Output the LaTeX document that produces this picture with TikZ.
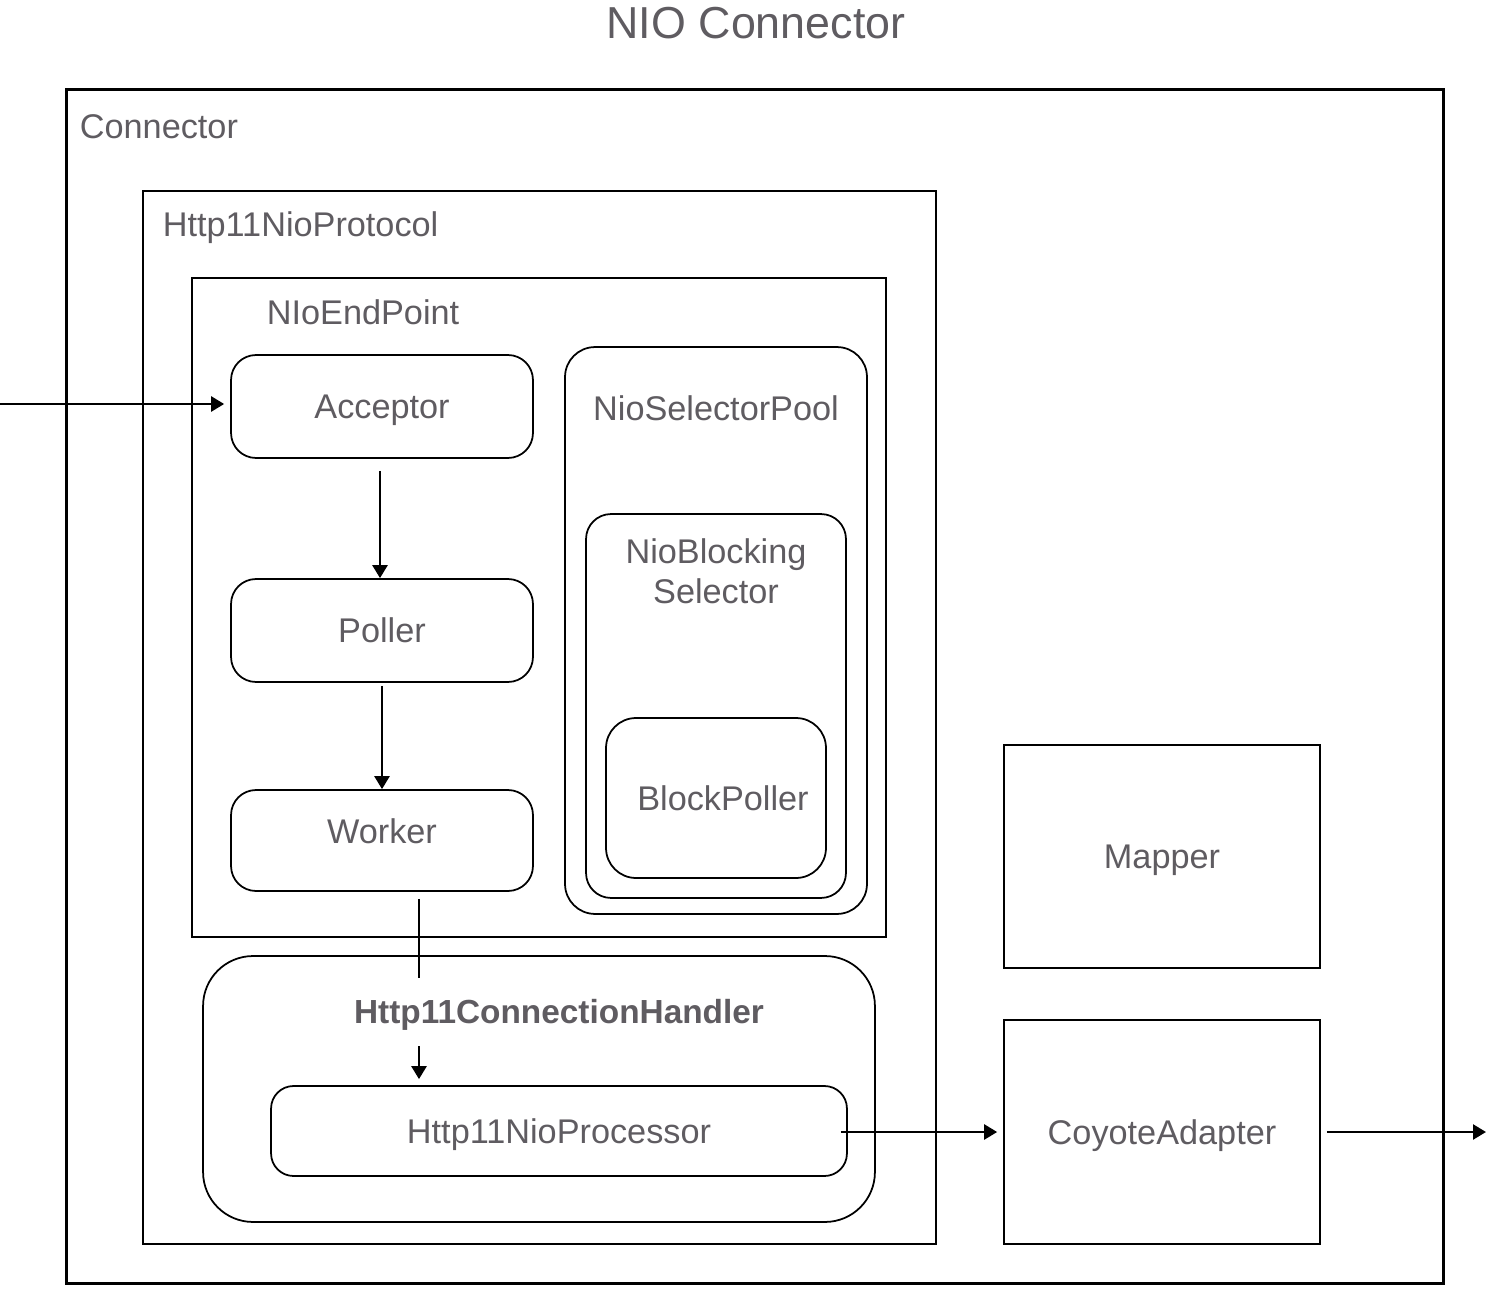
\documentclass[tikz,border=0pt]{standalone}
\usepackage{fontspec}
\setmainfont{Liberation Sans}
\usetikzlibrary{arrows.meta}
\definecolor{labelgray}{RGB}{95,92,97}

\begin{document}
\begin{tikzpicture}[x=0.02cm, y=-0.02cm, >={Triangle[length=0.26cm, width=0.3cm]}, line width=1pt]
  \tikzset{box/.style = { draw, rectangle, inner sep=0pt, text=labelgray, text height=14pt, text depth=0pt, font=\fontsize{19.5}{23}\selectfont}}
  \tikzset{rbox/.style = { box, rounded corners=0.5cm}}
  \tikzset{label/.style = { inner sep=0pt, text=labelgray, text height=14pt, text depth=0pt, font=\fontsize{19.5}{23}\selectfont}}
  \tikzset{flow/.style = { ->, line width=1.4pt}}
%  \draw [gray, very thin] (0,0) grid[step=100] (1502,1308);
  \useasboundingbox (0,0) rectangle (1502,1308);

  \node[label, text height=18.3pt, font=\fontsize{25.5}{30}\selectfont] (title) at (756,22) {NIO Connector};

  % containers
  \node[name = conn, box, line width=1.6pt, minimum width=27.56cm, minimum height=23.9cm] at (755,686.5) {};
  \node[label, anchor=west] (connlbl) at (79,126) {Connector};

  \node[name = proto, box, minimum width=15.86cm, minimum height=21.06cm] at (539.5,717.5) {};
  \node[label, anchor=west] (protolbl) at (162,224) {Http11NioProtocol};

  \node[name = endp, box, minimum width=13.88cm, minimum height=13.18cm] at (539,607.5) {};
  \node[label, anchor=west] (endplbl) at (266,312) {NIoEndPoint};

  \node[name = acceptor, rbox, minimum width=6.04cm, minimum height=2.06cm] at (382,406.5) {Acceptor};
  \node[name = poller, rbox, minimum width=6.04cm, minimum height=2.06cm] at (382,630.5) {Poller};
  \node[name = worker, rbox, text depth=0.36cm, minimum width=6.04cm, minimum height=2.02cm] at (382,840.5) {Worker};

  \node[name = pool, rbox, rounded corners=0.6cm, minimum width=6.04cm, minimum height=11.34cm] at (716,630.5) {};
  \node[label] (poollbl) at (716,408) {NioSelectorPool};
  \node[name = blocking, rbox, minimum width=5.2cm, minimum height=7.68cm] at (716,706) {};
  \node[label, text height=, text depth=, align=center] (blockinglbl) at (716,571) {NioBlocking\\Selector};
  \node[name = bpoller, rbox, rounded corners=0.6cm, minimum width=4.4cm, minimum height=3.2cm] at (716,798) {};
  \node[label] (bpollerlbl) at (723,798) {BlockPoller};

  \node[name = handler, rbox, rounded corners=1cm, minimum width=13.44cm, minimum height=5.32cm] at (539,1089) {};
  \node[name = processor, rbox, rounded corners=0.45cm, minimum width=11.52cm, minimum height=1.8cm] at (559,1131) {Http11NioProcessor};

  \node[name = mapper, box, minimum width=6.32cm, minimum height=4.46cm] at (1162,856.5) {Mapper};
  \node[name = coyote, box, minimum width=6.32cm, minimum height=4.48cm] at (1162,1132) {CoyoteAdapter};

  % connectors
  \coordinate (in) at (0,404);
  \coordinate (hx) at (419,0);
  \coordinate (out) at (1486,1132);

  \draw [flow, shorten >=0.12cm] (in) -- (in -| acceptor.west);
  \draw [flow, shorten <=0.24cm] (acceptor.south -| 380,0) -- (poller.north -| 380,0);
  \draw [flow, shorten <=0.06cm] (poller.south) -- (worker.north);
  \draw [flow, shorten <=0.14cm, shorten >=0.12cm] (worker.south -| hx) -- (processor.north -| hx);
  \draw [flow, shorten <=-0.14cm, shorten >=0.12cm] (coyote.west -| processor.east) -- (coyote.west);
  \draw [flow, shorten <=0.12cm] (coyote.east) -- (out);

  \node[label, fill=white, text height=13.6pt, font=\bfseries\fontsize{19}{23}\selectfont, minimum height=1.36cm] (handlerlbl) at (559,1012) {Http11ConnectionHandler};
\end{tikzpicture}
\end{document}
